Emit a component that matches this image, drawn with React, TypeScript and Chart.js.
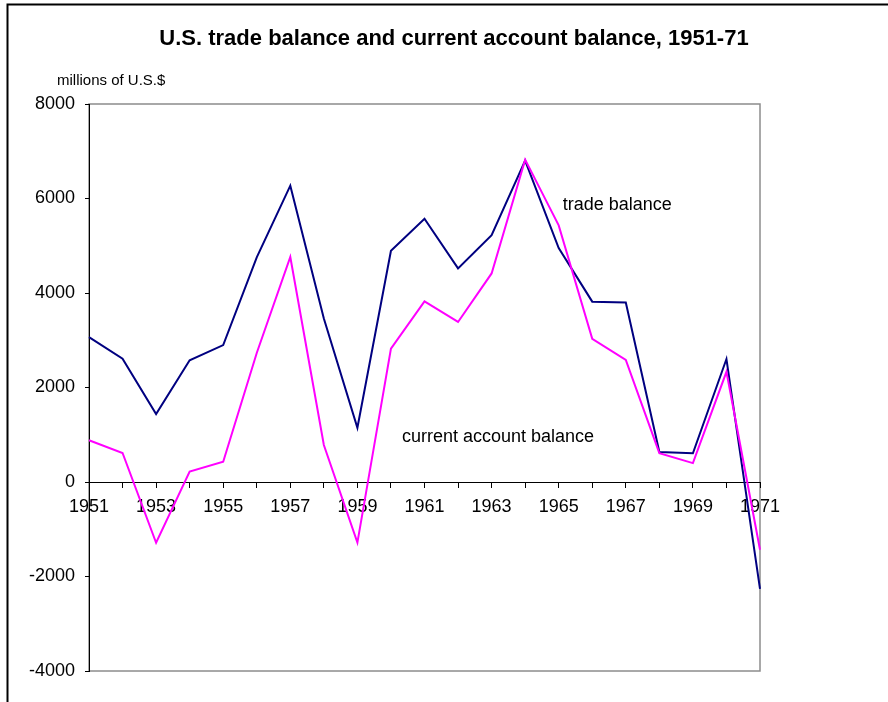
import React, { useEffect, useRef } from 'react';
import { Chart, registerables } from 'chart.js';

Chart.register(...registerables);

const years = ['1951', '1952', '1953', '1954', '1955', '1956', '1957', '1958', '1959', '1960', '1961', '1962', '1963', '1964', '1965', '1966', '1967', '1968', '1969', '1970', '1971'];
const tradeBalance = [3067, 2611, 1437, 2576, 2897, 4753, 6271, 3462, 1148, 4892, 5571, 4521, 5224, 6801, 4951, 3817, 3800, 635, 607, 2603, -2260];
const currentAccount = [884, 614, -1286, 219, 430, 2730, 4762, 784, -1282, 2824, 3822, 3387, 4414, 6823, 5431, 3031, 2583, 611, 399, 2331, -1433];
const yMin = -4000;
const yMax = 8000;
const yStep = 2000;

const titleText = 'U.S. trade balance and current account balance, 1951-71';
const unitText = 'millions of U.S.$';
const tradeLabel = 'trade balance';
const currentLabel = 'current account balance';

const FONT = '"Liberation Sans", Arial, sans-serif';

const decorPlugin = {
  id: 'decor',
  beforeDraw(chart: any) {
    const { ctx, chartArea } = chart;
    ctx.save();
    // outer frame (top and left)
    ctx.strokeStyle = '#000';
    ctx.lineWidth = 2;
    ctx.beginPath();
    ctx.moveTo(7.5, 702);
    ctx.lineTo(7.5, 4.5);
    ctx.lineTo(888, 4.5);
    ctx.stroke();
    // plot area border (gray)
    ctx.strokeStyle = '#8c8c8c';
    ctx.lineWidth = 1.5;
    ctx.strokeRect(chartArea.left, chartArea.top, chartArea.right - chartArea.left, chartArea.bottom - chartArea.top);
    ctx.restore();
  },
  afterDraw(chart: any) {
    const { ctx, scales } = chart;
    const xs = scales.x;
    const ys = scales.y;
    ctx.save();
    ctx.fillStyle = '#000';
    ctx.textBaseline = 'alphabetic';
    ctx.font = `bold 22px ${FONT}`;
    ctx.textAlign = 'center';
    ctx.fillText(titleText, 454, 45);
    ctx.font = `15px ${FONT}`;
    ctx.textAlign = 'left';
    ctx.fillText(unitText, 57, 85);
    ctx.font = `18px ${FONT}`;
    ctx.fillText(tradeLabel, xs.getPixelForValue(14) + 4, ys.getPixelForValue(5750));
    ctx.fillText(currentLabel, xs.getPixelForValue(9) + 11, ys.getPixelForValue(840));
    ctx.restore();
  },
};

export default function App() {
  const ref = useRef<HTMLCanvasElement | null>(null);

  useEffect(() => {
    if (!ref.current) return;
    const chart = new Chart(ref.current, {
      type: 'line',
      data: {
        labels: years,
        datasets: [
          {
            label: 'trade balance',
            data: tradeBalance,
            borderColor: '#000080',
            backgroundColor: '#000080',
            borderWidth: 2,
            pointRadius: 0,
            tension: 0,
            order: 2,
          },
          {
            label: 'current account balance',
            data: currentAccount,
            borderColor: '#ff00ff',
            backgroundColor: '#ff00ff',
            borderWidth: 2,
            pointRadius: 0,
            tension: 0,
            order: 1,
          },
        ],
      },
      options: {
        responsive: false,
        animation: false,
        devicePixelRatio: 1,
        layout: { padding: { left: 0, top: 104, right: 128, bottom: 31 } },
        plugins: {
          legend: { display: false },
          tooltip: { enabled: false },
          title: { display: false },
        },
        scales: {
          x: {
            type: 'category',
            position: { y: 0 } as any,
            offset: false,
            grid: { display: true, drawOnChartArea: false, drawTicks: true, tickLength: 5, tickColor: '#000', lineWidth: 1 },
            border: { display: true, color: '#000', width: 1 },
            ticks: {
              autoSkip: false,
              maxRotation: 0,
              minRotation: 0,
              padding: 9,
              color: '#000',
              font: { family: FONT, size: 18 },
              callback: (_v: any, i: number) => (i % 2 === 0 ? years[i] : ''),
            },
          },
          y: {
            min: yMin,
            max: yMax,
            grid: { display: true, drawOnChartArea: false, drawTicks: true, tickLength: 4, tickColor: '#000' },
            border: { display: true, color: '#000', width: 1 },
            ticks: {
              stepSize: yStep,
              padding: 10,
              color: '#000',
              font: { family: FONT, size: 18 },
              callback: (v: any) => String(v),
            },
            afterFit: (s: any) => {
              s.width = 89;
            },
          },
        },
      },
      plugins: [decorPlugin],
    });
    return () => chart.destroy();
  }, []);

  return (
    <div style={{ position: 'fixed', left: 0, top: 0, width: 888, height: 702, background: '#fff' }}>
      <canvas ref={ref} width={888} height={702} style={{ display: 'block', width: 888, height: 702 }} />
    </div>
  );
}
